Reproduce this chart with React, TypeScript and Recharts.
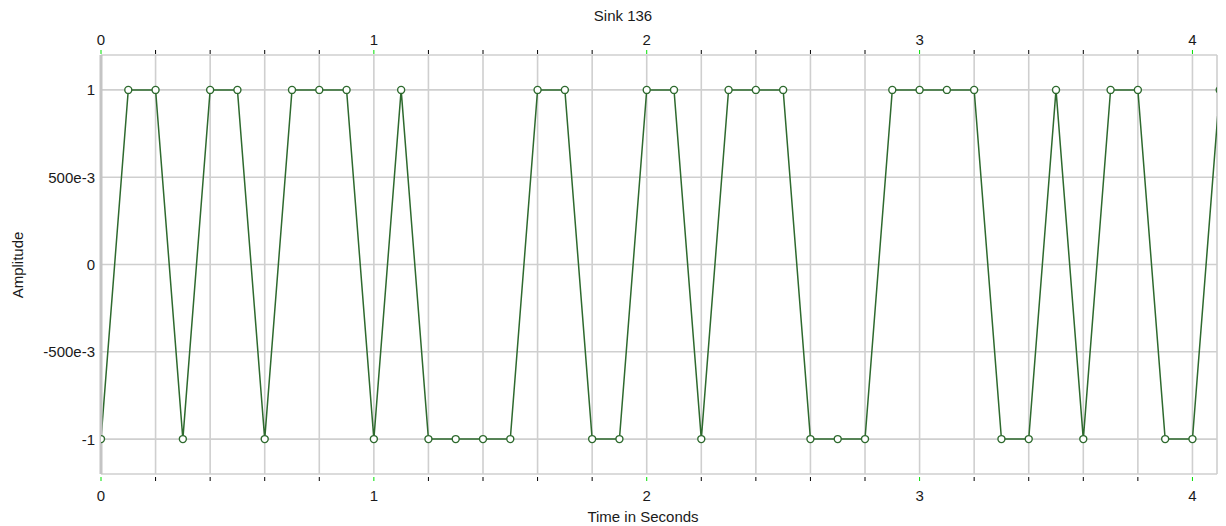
import React from 'react';
import { LineChart, Line, XAxis, YAxis, CartesianGrid } from 'recharts';

const times = [0, 0.1, 0.2, 0.3, 0.4, 0.5, 0.6, 0.7, 0.8, 0.9, 1.0, 1.1, 1.2, 1.3, 1.4, 1.5, 1.6, 1.7, 1.8, 1.9, 2.0, 2.1, 2.2, 2.3, 2.4, 2.5, 2.6, 2.7, 2.8, 2.9, 3.0, 3.1, 3.2, 3.3, 3.4, 3.5, 3.6, 3.7, 3.8, 3.9, 4.0, 4.1];
const amplitude = [-1, 1, 1, -1, 1, 1, -1, 1, 1, 1, -1, 1, -1, -1, -1, -1, 1, 1, -1, -1, 1, 1, -1, 1, 1, 1, -1, -1, -1, 1, 1, 1, 1, -1, -1, 1, -1, 1, 1, -1, -1, 1];

const xTicks = [0, 0.2, 0.4, 0.6, 0.8, 1.0, 1.2, 1.4, 1.6, 1.8, 2.0, 2.2, 2.4, 2.6, 2.8, 3.0, 3.2, 3.4, 3.6, 3.8, 4.0, 4.09];
const xLabelValues = [0, 1, 2, 3, 4];
const yTicks = [-1, -0.5, 0, 0.5, 1];
const yTickLabels = ['-1', '-500e-3', '0', '500e-3', '1'];

const data = times.map((t, i) => ({ t, v: amplitude[i] }));

const FONT = '"Liberation Sans", Arial, sans-serif';
const FS = 15;
const LINE = '#2e6a2e';
const TEXT = '#1a1a1a';

const isMajor = (v: number) => xLabelValues.some((m) => Math.abs(m - v) < 1e-6);
const isEdge = (v: number) => Math.abs(v - 4.09) < 1e-6;

const BottomTick = (props: any) => {
  const { x, y, payload } = props;
  const v = payload.value;
  if (isEdge(v)) return null;
  const major = isMajor(v);
  return (
    <g>
      <line x1={x} x2={x} y1={y + 3} y2={y + 7} stroke={major ? '#00e000' : '#000'} strokeWidth={1} />
      {major && (
        <text x={x} y={y + 27} textAnchor="middle" fontSize={FS} fontFamily={FONT} fill={TEXT}>
          {Math.round(v)}
        </text>
      )}
    </g>
  );
};

const TopTick = (props: any) => {
  const { x, y, payload } = props;
  const v = payload.value;
  if (isEdge(v)) return null;
  const major = isMajor(v);
  return (
    <g>
      <line x1={x} x2={x} y1={y - 5} y2={y - 1} stroke={major ? '#00e000' : '#000'} strokeWidth={1} />
      {major && (
        <text x={x} y={y - 10} textAnchor="middle" fontSize={FS} fontFamily={FONT} fill={TEXT}>
          {Math.round(v)}
        </text>
      )}
    </g>
  );
};

const LeftTick = (props: any) => {
  const { x, y, payload } = props;
  const v = payload.value;
  const idx = yTicks.findIndex((t) => Math.abs(t - v) < 1e-9);
  const label = idx >= 0 ? yTickLabels[idx] : String(v);
  return (
    <text x={x - 6} y={y + 5.5} textAnchor="end" fontSize={FS} fontFamily={FONT} fill={TEXT}>
      {label}
    </text>
  );
};

export default function App() {
  return (
    <div style={{ position: 'absolute', left: 0, top: 0, width: 1226, height: 526, background: '#fff', fontFamily: FONT }}>
      <LineChart
        width={1226}
        height={526}
        data={data}
        margin={{ top: 25, right: 9, bottom: 22, left: 41 }}
      >
        <CartesianGrid stroke="#cfcfcf" strokeWidth={1.6} />
        <XAxis
          dataKey="t"
          type="number"
          domain={[0, 4.09]}
          ticks={xTicks}
          allowDataOverflow
          height={30}
          tickSize={0}
          tickMargin={0}
          axisLine={false}
          tickLine={false}
          interval={0}
          tick={<BottomTick />}
        />
        <XAxis
          xAxisId="top"
          orientation="top"
          dataKey="t"
          type="number"
          domain={[0, 4.09]}
          ticks={xTicks}
          allowDataOverflow
          height={30}
          tickSize={0}
          tickMargin={0}
          axisLine={false}
          tickLine={false}
          interval={0}
          tick={<TopTick />}
        />
        <YAxis
          type="number"
          domain={[-1.2, 1.2]}
          ticks={yTicks}
          width={60}
          tickSize={0}
          tickMargin={0}
          tickLine={false}
          axisLine={{ stroke: '#c4c4c4', strokeWidth: 3 }}
          tick={<LeftTick />}
          interval={0}
        />
        <Line
          type="linear"
          dataKey="v"
          stroke={LINE}
          strokeWidth={1.5}
          dot={{ r: 3.5, fill: '#fff', stroke: LINE, strokeWidth: 1.4 }}
          isAnimationActive={false}
        />
      </LineChart>
      <div style={{ position: 'absolute', left: 523, width: 200, top: 7, textAlign: 'center', fontSize: FS, lineHeight: '18px', color: TEXT }}>
        Sink 136
      </div>
      <div style={{ position: 'absolute', left: 543, width: 200, top: 508, textAlign: 'center', fontSize: FS, lineHeight: '18px', color: TEXT }}>
        Time in Seconds
      </div>
      <div style={{ position: 'absolute', left: 18, top: 265, fontSize: FS, lineHeight: '18px', color: TEXT, transform: 'translate(-50%, -50%) rotate(-90deg)', whiteSpace: 'nowrap' }}>
        Amplitude
      </div>
    </div>
  );
}
